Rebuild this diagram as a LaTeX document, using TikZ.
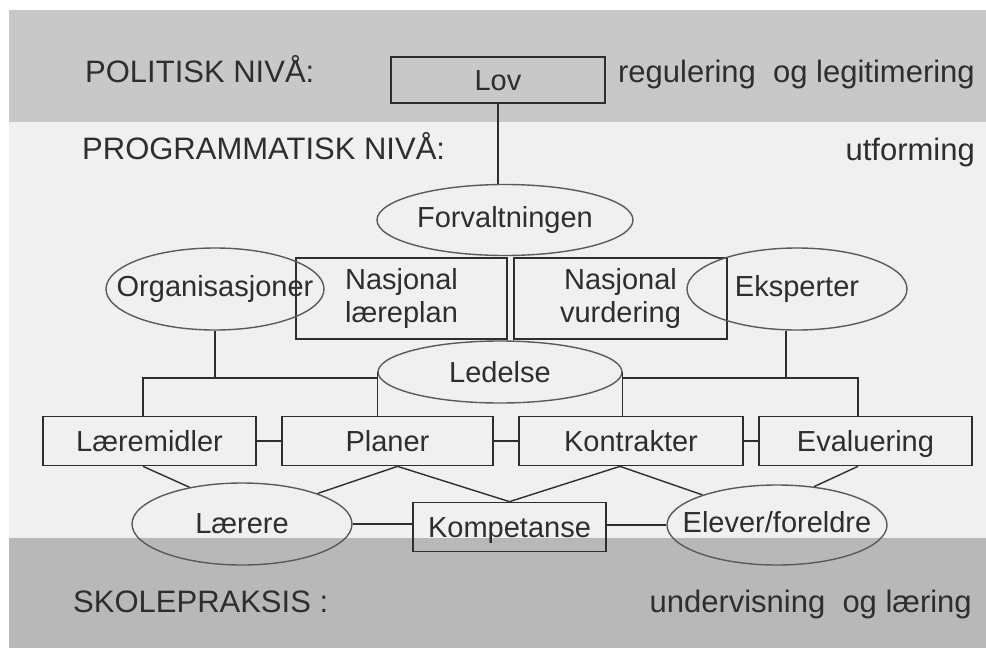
\documentclass[tikz,border=0pt]{standalone}
\usepackage{fontspec}
\setmainfont{Liberation Sans}
\usetikzlibrary{shapes.geometric}
\definecolor{bandtop}{HTML}{C8C8C8}
\definecolor{bandmid}{HTML}{F0F0F0}
\definecolor{bandbot}{HTML}{B8B8B8}
\definecolor{ink}{HTML}{2E2E2E}
\definecolor{rim}{HTML}{5A5A5A}
\newcommand{\ovaltext}[1]{\makebox[0pt]{#1}}

\begin{document}
\begin{tikzpicture}[x=1pt,y=-1pt,
  box/.style={draw=ink, line width=1.7pt, rectangle, inner sep=0pt, text=ink,
    font=\fontsize{29}{33}\selectfont},
  onerow/.style={box, text height=24pt, text depth=3pt},
  oval/.style={draw=rim, line width=1.4pt, ellipse, inner sep=0pt, text=ink,
    font=\fontsize{29}{33}\selectfont},
  lbl/.style={inner sep=0pt, text=ink, font=\fontsize{31}{35}\selectfont},
  link/.style={draw=ink, line width=1.4pt}]

  % Page and the three levels
  \fill[white] (0,0) rectangle (986,648);
  \useasboundingbox (0,0) rectangle (986,648);
  \fill[bandtop] (9,10) rectangle (986,122);
  \fill[bandmid] (9,122) rectangle (986,538);
  \fill[bandbot] (9,538) rectangle (986,648);

  % Level labels
  \node[lbl, anchor=base west] (polit) at (85,82) {POLITISK NIVÅ:};
  \node[lbl, anchor=base east] (regul) at (975,82) {regulering~ og legitimering};
  \node[lbl, anchor=base west] (progr) at (82,159) {PROGRAMMATISK NIVÅ:};
  \node[lbl, anchor=base east] (utf) at (975,160) {utforming};
  \node[lbl, anchor=base west] (skole) at (73,612) {SKOLEPRAKSIS :};
  \node[lbl, anchor=base east] (underv) at (972,612) {undervisning~ og læring};

  % Top part
  \node[onerow, fill=bandtop, line width=2.2pt, minimum width=214pt, minimum height=46pt] (lov) at (498,80) {Lov};
  \node[oval, minimum width=256pt, minimum height=71pt] (forv) at (505,220) {\ovaltext{Forvaltningen}};
  \node[box, align=center, minimum width=211pt, minimum height=81pt] (nlp) at (401.5,298.5) {Nasjonal\\læreplan};
  \node[box, align=center, minimum width=213pt, minimum height=81pt] (nvu) at (620.5,298.5) {Nasjonal\\vurdering};
  \node[oval, minimum width=218pt, minimum height=82pt] (org) at (215,289) {\ovaltext{Organisasjoner}};
  \node[oval, minimum width=220pt, minimum height=82pt] (eks) at (797,289) {\ovaltext{Eksperter}};
  \node[oval, minimum width=244pt, minimum height=62pt] (led) at (500,372) {\ovaltext{Ledelse}};

  % Middle row
  \node[onerow, minimum width=213pt, minimum height=49pt] (lmid) at (149.5,441) {Læremidler};
  \node[onerow, minimum width=211pt, minimum height=49pt] (plan) at (387.5,441) {Planer};
  \node[onerow, minimum width=224pt, minimum height=49pt] (kontr) at (631,441) {Kontrakter};
  \node[onerow, minimum width=213pt, minimum height=49pt] (eval) at (865.5,441) {Evaluering};

  % Bottom row
  \node[oval, minimum width=220pt, minimum height=82pt] (laer) at (242,524) {\ovaltext{Lærere}};
  \node[onerow, minimum width=193pt, minimum height=49pt] (komp) at (509.5,527) {Kompetanse};
  \node[oval, minimum width=220pt, minimum height=80pt] (elev) at (777,525) {\raisebox{6pt}{\ovaltext{Elever/foreldre}}};

  % Lines down from the top
  \draw[link] (lov.south) -- (lov.south |- forv.north);
  \coordinate (busl) at (143,378);
  \coordinate (busr) at (858,378);
  \coordinate (eksdrop) at (786,378);
  \draw[link] (org.south) -- (org.south |- busl);
  \draw[link] (busl |- lmid.north) -- (busl) -- (led.west |- busl);
  \draw[link] (led.west) -- (led.west |- plan.north);
  \draw[link] (led.east) -- (led.east |- kontr.north);
  \draw[link] (led.east |- busr) -- (busr) -- (busr |- eval.north);
  \draw[link] (eksdrop |- eks.south) -- (eksdrop);

  % Lines along the rows
  \draw[link] (lmid.east) -- (plan.west);
  \draw[link] (plan.east) -- (kontr.west);
  \draw[link] (kontr.east) -- (eval.west);
  \draw[link] (laer.east) -- (laer.east -| komp.west);
  \draw[link] (komp.east |- elev.west) -- (elev.west);

  % Slanted lines
  \draw[link] (busl |- lmid.south) -- (laer.145);
  \draw[link] ([xshift=10pt]plan.south) -- (laer.22);
  \draw[link] ([xshift=10pt]plan.south) -- (komp.north);
  \draw[link] ([xshift=-11pt]kontr.south) -- (komp.north);
  \draw[link] ([xshift=-11pt]kontr.south) -- (elev.158);
  \draw[link] (busr |- eval.south) -- (elev.46);

\end{tikzpicture}
\end{document}
